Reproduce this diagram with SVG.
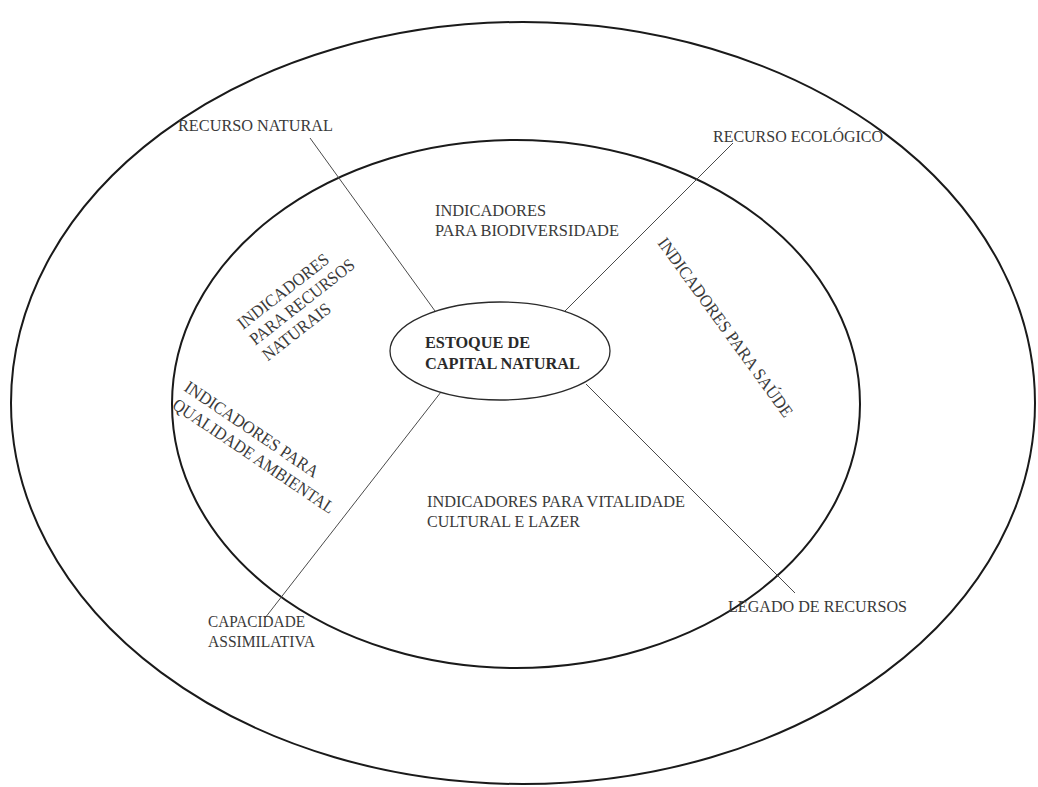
<svg xmlns="http://www.w3.org/2000/svg" width="1038" height="787" viewBox="0 0 1038 787">
  <style>
    .ring { fill: none; stroke: #1a1a1a; stroke-width: 2; }
    .core { fill: #ffffff; stroke: #2a2a2a; stroke-width: 1.3; }
    .link { stroke: #4a4a4a; stroke-width: 1; fill: none; }
    .lbl { font-family: "Liberation Serif", "DejaVu Serif", serif; font-size: 17.5px; fill: #3a3a3a; }
    .bold { font-weight: bold; fill: #2a2a2a; }
  </style>
  <rect width="1038" height="787" fill="#ffffff"/>

  <!-- concentric rings -->
  <g id="outer-ring">
    <ellipse class="ring" cx="523" cy="403" rx="512" ry="381"/>
  </g>
  <g id="inner-ring">
    <ellipse class="ring" cx="516" cy="404" rx="344" ry="264"/>
  </g>

  <!-- spokes from the core out to the outer labels -->
  <g id="connectors">
    <line class="link" x1="310" y1="138" x2="435" y2="311"/>
    <line class="link" x1="733" y1="143" x2="565" y2="311"/>
    <line class="link" x1="441" y1="392" x2="265" y2="618"/>
    <line class="link" x1="586" y1="384" x2="795" y2="593"/>
  </g>

  <g id="core">
    <ellipse class="core" cx="500" cy="351" rx="110" ry="49"/>
    <text class="lbl bold" x="425" y="348" textLength="105" lengthAdjust="spacingAndGlyphs">ESTOQUE DE</text>
    <text class="lbl bold" x="425" y="369" textLength="155" lengthAdjust="spacingAndGlyphs">CAPITAL NATURAL</text>
  </g>

  <!-- outer labels -->
  <g id="recurso-natural">
    <text class="lbl" x="178" y="131" textLength="155" lengthAdjust="spacingAndGlyphs">RECURSO NATURAL</text>
  </g>
  <g id="recurso-ecologico">
    <text class="lbl" x="713" y="142" textLength="170" lengthAdjust="spacingAndGlyphs">RECURSO ECOLÓGICO</text>
  </g>
  <g id="capacidade-assimilativa">
    <text class="lbl" x="208" y="627" textLength="97" lengthAdjust="spacingAndGlyphs">CAPACIDADE</text>
    <text class="lbl" x="208" y="647" textLength="107" lengthAdjust="spacingAndGlyphs">ASSIMILATIVA</text>
  </g>
  <g id="legado-recursos">
    <text class="lbl" x="728" y="612" textLength="179" lengthAdjust="spacingAndGlyphs">LEGADO DE RECURSOS</text>
  </g>

  <!-- indicator sectors -->
  <g id="ind-biodiversidade">
    <text class="lbl" x="435" y="216" textLength="111" lengthAdjust="spacingAndGlyphs">INDICADORES</text>
    <text class="lbl" x="435" y="236" textLength="184" lengthAdjust="spacingAndGlyphs">PARA BIODIVERSIDADE</text>
  </g>
  <g id="ind-recursos-naturais">
    <text class="lbl" transform="translate(243,330) rotate(-38)">
      <tspan x="0" y="0" textLength="111" lengthAdjust="spacingAndGlyphs">INDICADORES</tspan>
      <tspan x="0" y="20" textLength="128" lengthAdjust="spacingAndGlyphs">PARA RECURSOS</tspan>
      <tspan x="0" y="40" textLength="82" lengthAdjust="spacingAndGlyphs">NATURAIS</tspan>
    </text>
  </g>
  <g id="ind-saude">
    <text class="lbl" transform="translate(657,243) rotate(54)" textLength="217" lengthAdjust="spacingAndGlyphs">INDICADORES PARA SAÚDE</text>
  </g>
  <g id="ind-qualidade-ambiental">
    <text class="lbl" transform="translate(183,390) rotate(34)">
      <tspan x="0" y="0" textLength="157" lengthAdjust="spacingAndGlyphs">INDICADORES PARA</tspan>
      <tspan x="0" y="21" textLength="191" lengthAdjust="spacingAndGlyphs">QUALIDADE AMBIENTAL</tspan>
    </text>
  </g>
  <g id="ind-vitalidade-cultural">
    <text class="lbl" x="427" y="507" textLength="258" lengthAdjust="spacingAndGlyphs">INDICADORES PARA VITALIDADE</text>
    <text class="lbl" x="427" y="527" textLength="153" lengthAdjust="spacingAndGlyphs">CULTURAL E LAZER</text>
  </g>
</svg>
